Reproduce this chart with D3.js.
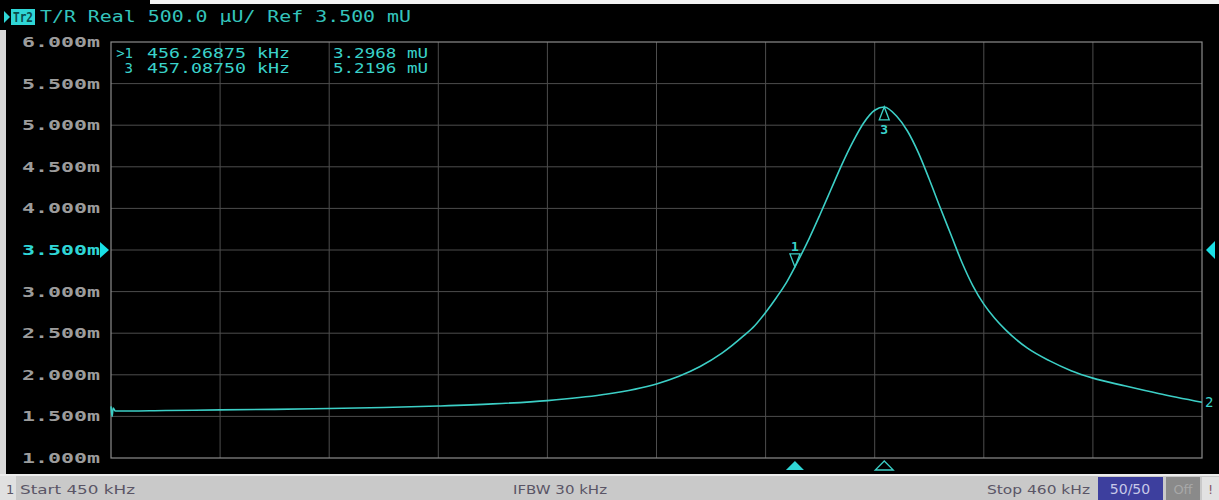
<!DOCTYPE html>
<html>
<head>
<meta charset="utf-8">
<script src="https://cdn.jsdelivr.net/npm/d3@7"></script>
<style>
  html, body { margin: 0; padding: 0; background: #000; }
  svg { display: block; }
</style>
</head>
<body>
<svg id="chart" width="1219" height="500"></svg>
<script>
// Trace 2: T/R real part, 450–460 kHz sweep
const freqKHz = [450.00, 450.01, 450.02, 450.04, 450.50, 451.00, 451.50, 452.00, 452.50, 453.00, 453.50,
  454.00, 454.50, 455.00, 455.20, 455.40, 455.60, 455.80, 455.90, 456.00, 456.10, 456.20, 456.26875,
  456.40, 456.50, 456.60, 456.70, 456.80, 456.90, 457.00, 457.0875, 457.20, 457.30, 457.40,
  457.50, 457.60, 457.70, 457.80, 457.90, 458.00, 458.10, 458.20, 458.40, 458.60, 458.80,
  459.00, 459.30, 459.60, 460.00];
const realMU = [1.62, 1.50, 1.60, 1.565, 1.571, 1.578, 1.585, 1.595, 1.607, 1.625, 1.650,
  1.690, 1.760, 1.890, 1.980, 2.100, 2.260, 2.470, 2.590, 2.750, 2.930, 3.130, 3.2968,
  3.640, 3.930, 4.230, 4.530, 4.800, 5.030, 5.180, 5.2196, 5.110, 4.930, 4.670,
  4.350, 4.010, 3.680, 3.350, 3.070, 2.850, 2.680, 2.540, 2.320, 2.170, 2.050,
  1.960, 1.865, 1.775, 1.670];

const yTicks = [1.0, 1.5, 2.0, 2.5, 3.0, 3.5, 4.0, 4.5, 5.0, 5.5, 6.0];
const xTicks = [450, 451, 452, 453, 454, 455, 456, 457, 458, 459, 460];
const refLevel = 3.5;

// markers: id, frequency, value, active flag
const markerIds = ["1", "3"];
const markerFreq = [456.26875, 457.08750];
const markerVal = [3.2968, 5.2196];
const markerActive = [true, false];

const headerText = "T/R Real 500.0 \u00b5U/ Ref 3.500 mU";
const statusLeft = "Start 450 kHz";
const statusMid = "IFBW 30 kHz";
const statusRight = "Stop 460 kHz";

const svg = d3.select("#chart");
const W = 1219, H = 500;
const plot = { left: 111, right: 1202, top: 42, bottom: 458 };

const x = d3.scaleLinear().domain([450, 460]).range([plot.left, plot.right]);
const y = d3.scaleLinear().domain([1, 6]).range([plot.bottom, plot.top]);

const TRACE = "#3ccfc6";
const MONO = "'DejaVu Sans Mono', 'Liberation Mono', monospace";

svg.append("rect").attr("width", W).attr("height", H).attr("fill", "#000");
// instrument frame edges
svg.append("rect").attr("x", 0).attr("y", 30).attr("width", 6).attr("height", 445).attr("fill", "#d8d8d8");
svg.append("rect").attr("x", 150).attr("y", 0).attr("width", W - 150).attr("height", 4).attr("fill", "#f2f2f2");

// grid
const grid = svg.append("g");
grid.selectAll("line.v").data(xTicks.slice(1, -1)).join("line")
  .attr("x1", d => x(d)).attr("x2", d => x(d))
  .attr("y1", plot.top).attr("y2", plot.bottom)
  .attr("stroke", "#4d4d4d").attr("stroke-width", 1);
grid.selectAll("line.h").data(yTicks.slice(1, -1)).join("line")
  .attr("x1", plot.left).attr("x2", plot.right)
  .attr("y1", d => y(d)).attr("y2", d => y(d))
  .attr("stroke", "#4d4d4d").attr("stroke-width", 1);
grid.append("rect")
  .attr("x", plot.left).attr("y", plot.top)
  .attr("width", plot.right - plot.left).attr("height", plot.bottom - plot.top)
  .attr("fill", "none").attr("stroke", "#8c8c8c").attr("stroke-width", 1.2);

// y-axis labels via d3 axis
const yAxis = d3.axisLeft(y).tickValues(yTicks).tickSize(0).tickPadding(0)
  .tickFormat(d => d.toFixed(3) + "m");
const ya = svg.append("g").attr("transform", "translate(100,0)").call(yAxis);
ya.select(".domain").remove();
ya.selectAll("text")
  .attr("font-family", MONO).attr("font-size", 14).attr("font-weight", "bold")
  .attr("textLength", 78).attr("lengthAdjust", "spacingAndGlyphs")
  .attr("fill", d => d === refLevel ? "#2fd6d6" : "#9c9c9c");

// reference level pointers
svg.append("path")
  .attr("d", `M${plot.left - 11},${y(refLevel) - 8} L${plot.left - 2},${y(refLevel)} L${plot.left - 11},${y(refLevel) + 8} Z`)
  .attr("fill", "#19e0e6");
svg.append("path")
  .attr("d", `M${W - 4},${y(refLevel) - 9} L${W - 13},${y(refLevel)} L${W - 4},${y(refLevel) + 9} Z`)
  .attr("fill", "#19e0e6");

// header
svg.append("path").attr("d", "M4,11 L10,17 L4,23 Z").attr("fill", "#2fd6d6");
svg.append("rect").attr("x", 11).attr("y", 9).attr("width", 24).attr("height", 16).attr("fill", "#2fd6d6");
svg.append("text").attr("x", 13).attr("y", 22).text("Tr2")
  .attr("font-family", MONO).attr("font-size", 14).attr("font-weight", "bold")
  .attr("textLength", 20).attr("lengthAdjust", "spacingAndGlyphs").attr("fill", "#0a4a4a");
svg.append("text").attr("x", 40).attr("y", 22).text(headerText)
  .attr("font-family", MONO).attr("font-size", 15)
  .attr("textLength", 371).attr("lengthAdjust", "spacingAndGlyphs").attr("fill", "#34c4bc");

// marker readout table
const readout = svg.append("g").attr("font-family", MONO).attr("font-size", 14)
  .attr("fill", "#3ad2ca");
markerIds.forEach((id, i) => {
  const ry = 58 + i * 15;
  readout.append("text").attr("x", 133).attr("y", ry).attr("text-anchor", "end")
    .text((markerActive[i] ? ">" : "") + id);
  readout.append("text").attr("x", 147).attr("y", ry)
    .attr("textLength", 143).attr("lengthAdjust", "spacingAndGlyphs")
    .text(markerFreq[i].toFixed(5) + " kHz");
  readout.append("text").attr("x", 333).attr("y", ry)
    .attr("textLength", 95).attr("lengthAdjust", "spacingAndGlyphs")
    .text(markerVal[i].toFixed(4) + " mU");
});

// trace
const pts = freqKHz.map((f, i) => [f, realMU[i]]);
const line = d3.line().x(d => x(d[0])).y(d => y(d[1])).curve(d3.curveMonotoneX);
svg.append("path").datum(pts).attr("d", line)
  .attr("fill", "none").attr("stroke", TRACE).attr("stroke-width", 1.6);

// trace number at stop edge
svg.append("text").attr("x", plot.right + 3).attr("y", y(realMU[realMU.length - 1]) + 5)
  .text("2").attr("font-family", MONO).attr("font-size", 14).attr("fill", "#3ad2ca");

// markers on the trace
markerIds.forEach((id, i) => {
  const mx = x(markerFreq[i]), my = y(markerVal[i]);
  const g = svg.append("g");
  if (i === 0) {
    g.append("path").attr("d", `M${mx},${my} L${mx - 5},${my - 13} L${mx + 5},${my - 13} Z`)
      .attr("fill", "none").attr("stroke", TRACE).attr("stroke-width", 1.3);
    g.append("text").attr("x", mx).attr("y", my - 16).attr("text-anchor", "middle")
      .text(id).attr("font-family", MONO).attr("font-size", 13).attr("font-weight", "bold").attr("fill", "#3ad2ca");
  } else {
    g.append("path").attr("d", `M${mx},${my} L${mx - 5},${my + 13} L${mx + 5},${my + 13} Z`)
      .attr("fill", "none").attr("stroke", TRACE).attr("stroke-width", 1.3);
    g.append("text").attr("x", mx).attr("y", my + 27).attr("text-anchor", "middle")
      .text(id).attr("font-family", MONO).attr("font-size", 13).attr("font-weight", "bold").attr("fill", "#3ad2ca");
  }
  // position indicator below the grid
  const by = 470;
  svg.append("path").attr("d", `M${mx},${by - 9} L${mx - 9},${by} L${mx + 9},${by} Z`)
    .attr("fill", markerActive[i] ? "#2fd6d6" : "none")
    .attr("stroke", markerActive[i] ? "none" : TRACE).attr("stroke-width", 1.3);
});

// status bar
svg.append("rect").attr("x", 0).attr("y", 474).attr("width", W).attr("height", 26).attr("fill", "#c9c9c9");
svg.append("rect").attr("x", 0).attr("y", 474).attr("width", W).attr("height", 2).attr("fill", "#ececec");
svg.append("rect").attr("x", 0).attr("y", 476).attr("width", 16).attr("height", 24).attr("fill", "#e0e0e0");
const SANS = "'DejaVu Sans', 'Noto Sans', sans-serif";
const sb = svg.append("g").attr("font-family", SANS).attr("font-size", 13).attr("fill", "#5a5566");
sb.append("text").attr("x", 6).attr("y", 494).text("1");
sb.append("text").attr("x", 20).attr("y", 494).text(statusLeft).attr("textLength", 115).attr("lengthAdjust", "spacingAndGlyphs");
sb.append("text").attr("x", 513).attr("y", 494).text(statusMid).attr("textLength", 94).attr("lengthAdjust", "spacingAndGlyphs");
sb.append("text").attr("x", 987).attr("y", 494).text(statusRight).attr("textLength", 103).attr("lengthAdjust", "spacingAndGlyphs");
svg.append("rect").attr("x", 1098).attr("y", 477).attr("width", 65).attr("height", 23).attr("fill", "#3d3f9e");
svg.append("text").attr("x", 1130).attr("y", 494).attr("text-anchor", "middle").text("50/50")
  .attr("font-family", SANS).attr("font-size", 14).attr("fill", "#c8c8e8");
svg.append("rect").attr("x", 1166).attr("y", 477).attr("width", 34).attr("height", 23).attr("fill", "#8a8a8a");
svg.append("text").attr("x", 1183).attr("y", 494).attr("text-anchor", "middle").text("Off")
  .attr("font-family", SANS).attr("font-size", 13).attr("fill", "#a8a8a8");
svg.append("rect").attr("x", 1202).attr("y", 477).attr("width", 17).attr("height", 23).attr("fill", "#e2e2e2");
svg.append("text").attr("x", 1208).attr("y", 494).text("!")
  .attr("font-family", SANS).attr("font-size", 13).attr("fill", "#8a5a6a");
</script>
</body>
</html>
